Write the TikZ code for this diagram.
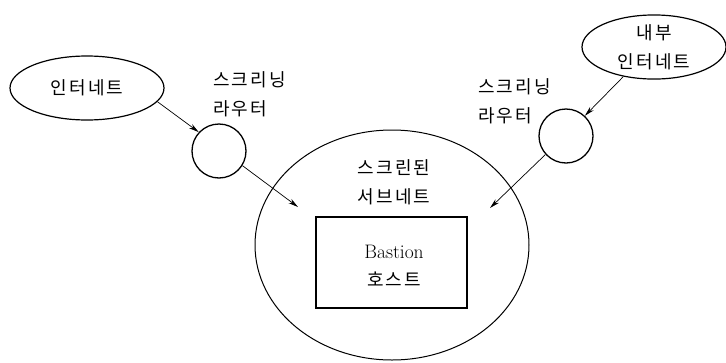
\documentclass[tikz,border=0pt]{standalone}
\usepackage{fontspec}
\newfontfamily\kr[LetterSpace=12]{Noto Sans CJK KR}
\usetikzlibrary{shapes.geometric,arrows.meta}
\tikzset{
  netshape/.style={draw, ellipse, line width=1.2pt, inner sep=0pt},
  router/.style={draw, circle, line width=1.3pt, inner sep=0pt, minimum size=54pt},
  lbl/.style={font=\kr\fontsize{18}{29}\selectfont, inner sep=0pt},
  arr/.style={-{Stealth[length=10pt,width=5pt]}, line width=0.7pt},
}
\begin{document}
\begin{tikzpicture}[x=1pt,y=-1pt]
\useasboundingbox (0,0) rectangle (726,362);
% nodes
\node[netshape, minimum width=154pt, minimum height=64pt, lbl, align=center] (inet) at (87,88) {인터네트};
\node[netshape, minimum width=144pt, minimum height=64pt, lbl, align=center] (inner) at (654,47) {내부\\인터네트};
\node[router] (r1) at (219,151) {};
\node[router] (r2) at (566,136) {};
\node[draw, ellipse, line width=1pt, minimum width=274pt, minimum height=230pt] (subnet) at (392,245) {};
\node[draw, line width=1.1pt, minimum width=151pt, minimum height=91pt, inner sep=0pt] (bastion) at (391.5,262.5) {};
% labels
\node[lbl, align=left, anchor=west] (l1) at (213,94) {스크리닝\\라우터};
\node[lbl, align=left, anchor=west] (l2) at (478,101) {스크리닝\\라우터};
\node[lbl, align=center] (l3) at (394,182) {스크린된\\서브네트};
\node[inner sep=0pt, align=center, font=\fontsize{19.5}{28}\selectfont] (l4) at (394,266) {Bastion\\{\kr\fontsize{18}{28}\selectfont 호스트}};
% free ends
\coordinate (e1) at (298,207);
\coordinate (e2) at (490,208);
% connectors
\draw[arr] (inet.-11) -- (r1.137);
\draw[arr] (r1.-32) -- (e1);
\draw[arr] (inner.224) -- (r2.47);
\draw[arr] (r2.222) -- (e2);
\end{tikzpicture}
\end{document}
